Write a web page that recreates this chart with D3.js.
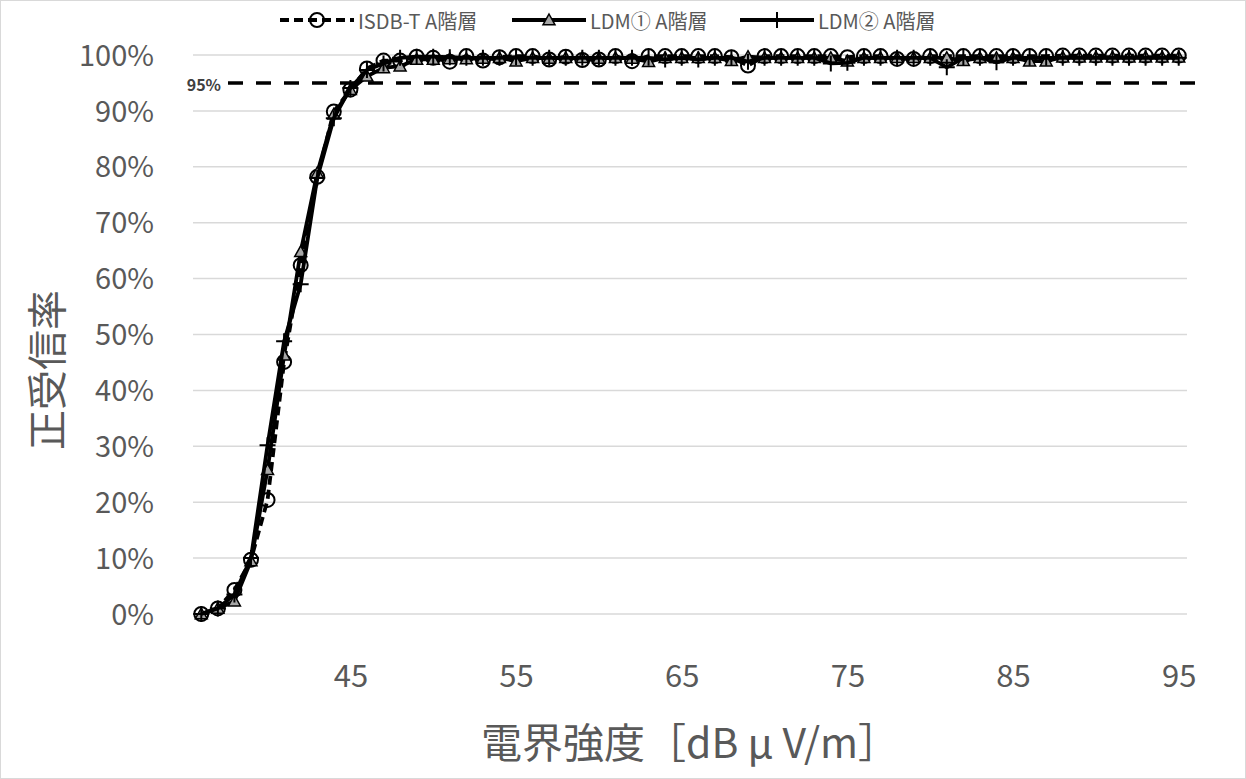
<!DOCTYPE html>
<html><head><meta charset="utf-8">
<script src="https://cdn.jsdelivr.net/npm/d3@7"></script>
<style>
html,body{margin:0;padding:0;background:#fff;}
svg{display:block;font-family:"Noto Sans CJK JP","Noto Sans",sans-serif;}
</style></head>
<body>
<script>
// ---- data ----
const fieldStrength = d3.range(36, 96); // 36..95 dBμV/m (categories)
const isdbT = [0,1,4.3,9.7,20.4,45.1,62.4,78.2,89.9,93.8,97.6,99.0,99.0,99.7,99.5,98.8,99.8,99.0,99.6,99.8,
  99.8,99.2,99.7,99.1,99.2,99.8,98.9,99.8,99.8,99.8,99.8,99.8,99.6,98.1,99.8,99.8,99.8,99.8,99.8,99.6,
  99.8,99.8,99.3,99.3,99.8,99.8,99.8,99.8,99.8,99.8,99.8,99.8,99.9,99.9,99.9,99.9,99.9,99.9,99.9,99.9];
const ldm1 = [0,1,2.3,9.5,25.8,46.3,64.8,78.9,89.4,93.8,96.2,97.7,98.0,99.2,99.2,99.3,99.3,99.4,99.5,98.9,
  99.5,99.4,99.5,99.5,99.4,99.5,99.4,98.8,99.5,99.5,99.5,99.5,99.0,99.7,99.5,99.5,99.5,99.5,99.5,98.9,
  99.5,99.5,99.5,99.5,99.5,99.5,99.0,99.5,99.5,99.5,98.9,98.9,99.6,99.6,99.6,99.6,99.6,99.6,99.6,99.6];
const ldm2 = [0,1,3.5,10,30.2,48.8,59.0,78.0,88.7,94.1,97.3,98.5,99.5,99.7,99.7,99.6,99.5,99.5,99.5,99.6,
  99.5,99.5,99.5,99.5,99.5,99.5,99.5,99.5,99.2,99.5,99.2,99.5,99.5,98.8,99.5,99.5,99.5,99.5,98.5,98.6,
  99.5,99.5,99.5,99.5,99.5,97.8,99.5,99.5,98.7,99.5,99.5,99.5,99.5,99.5,99.5,99.5,99.5,99.5,99.5,99.5];
const seriesNames = ["ISDB-T A階層","LDM① A階層","LDM② A階層"];
const xTickLabels = [45,55,65,75,85,95];
const yTicks = [0,10,20,30,40,50,60,70,80,90,100];
const threshold = 95;
const thresholdLabel = "95%";
const xTitle = "電界強度［dB μ V/m］";
const yTitle = "正受信率";

// ---- layout ----
const W = 1246, H = 779;
const plot = {left:193, right:1187, top:55, bottom:614};
const svg = d3.select("body").append("svg").attr("width",W).attr("height",H);
svg.append("rect").attr("x",0.5).attr("y",0.5).attr("width",W-1).attr("height",H-1)
  .attr("fill","#fff").attr("stroke","#d9d9d9");

const x = d3.scaleLinear().domain([35.5,95.5]).range([plot.left, plot.right]);
const y = d3.scaleLinear().domain([0,100]).range([plot.bottom, plot.top]);
const grey = "#595959";

// gridlines
svg.append("g").selectAll("line").data(yTicks).join("line")
  .attr("x1",plot.left).attr("x2",plot.right)
  .attr("y1",d=>y(d)).attr("y2",d=>y(d))
  .attr("stroke","#d9d9d9").attr("stroke-width",1.5);

// y axis labels
const yAxis = d3.axisLeft(y).tickValues(yTicks).tickFormat(d=>d+"%").tickSize(0).tickPadding(0);
const gy = svg.append("g").attr("transform",`translate(154,0)`).call(yAxis);
gy.select(".domain").remove();
gy.selectAll("text").attr("fill",grey).attr("font-size",29).attr("font-family",'"Noto Sans CJK JP",sans-serif').attr("dy","0.35em");

// x axis labels
const xAxis = d3.axisBottom(x).tickValues(xTickLabels).tickSize(0).tickPadding(0);
const gx = svg.append("g").attr("transform",`translate(0,676)`).call(xAxis);
gx.select(".domain").remove();
gx.selectAll("text").attr("fill",grey).attr("font-size",31).attr("font-family",'"Noto Sans CJK JP",sans-serif').attr("dy","0.35em");

// axis titles
svg.append("text").attr("x",690).attr("y",740).attr("text-anchor","middle").attr("dominant-baseline","central")
  .attr("fill",grey).attr("font-size",41).text(xTitle);
svg.append("text").attr("transform","translate(45,370) rotate(-90)").attr("text-anchor","middle")
  .attr("dominant-baseline","central").attr("fill",grey).attr("font-size",40).text(yTitle);

// threshold line
svg.append("line").attr("x1",228).attr("x2",1196).attr("y1",y(threshold)).attr("y2",y(threshold))
  .attr("stroke","#000").attr("stroke-width",3.5).attr("stroke-dasharray","15,13");
svg.append("text").attr("x",221).attr("y",y(threshold)+1).attr("text-anchor","end").attr("dominant-baseline","central")
  .attr("fill","#404040").attr("font-size",16).attr("font-weight","bold").text(thresholdLabel);

// series
const allSeries = [isdbT, ldm1, ldm2];
const dashes = ["9,5", null, null];
const line = d3.line().x((d,i)=>x(fieldStrength[i])).y(d=>y(d));

function marker(g, type, cx, cy){
  if(type===0){
    g.append("circle").attr("cx",cx).attr("cy",cy).attr("r",7).attr("fill","none").attr("stroke","#000").attr("stroke-width",2);
  } else if(type===1){
    const s = 6;
    g.append("path").attr("d",`M${cx},${cy-s}L${cx+s},${cy+s*0.8}L${cx-s},${cy+s*0.8}Z`)
      .attr("fill","#a6a6a6").attr("stroke","#000").attr("stroke-width",1.5);
  } else {
    g.append("path").attr("d",`M${cx-8},${cy}H${cx+8}M${cx},${cy-8}V${cy+8}`)
      .attr("stroke","#000").attr("stroke-width",2).attr("fill","none");
  }
}

allSeries.forEach((vals,k)=>{
  const g = svg.append("g");
  g.append("path").datum(vals).attr("d",line).attr("fill","none").attr("stroke","#000")
    .attr("stroke-width",3.8).attr("stroke-linejoin","round")
    .attr("stroke-dasharray",dashes[k]);
  vals.forEach((v,i)=>marker(g,k,x(fieldStrength[i]),y(v)));
});

// legend
const legendX = [280, 512, 740];
const legendY = 20;
seriesNames.forEach((name,k)=>{
  const g = svg.append("g");
  const x0 = legendX[k];
  g.append("line").attr("x1",x0).attr("x2",x0+74).attr("y1",legendY).attr("y2",legendY)
    .attr("stroke","#000").attr("stroke-width",3.8).attr("stroke-dasharray",dashes[k]);
  marker(g,k,x0+37,legendY);
  g.append("text").attr("x",x0+78).attr("y",legendY).attr("dominant-baseline","central")
    .attr("fill",grey).attr("font-size",20).text(name);
});
</script>
</body></html>
